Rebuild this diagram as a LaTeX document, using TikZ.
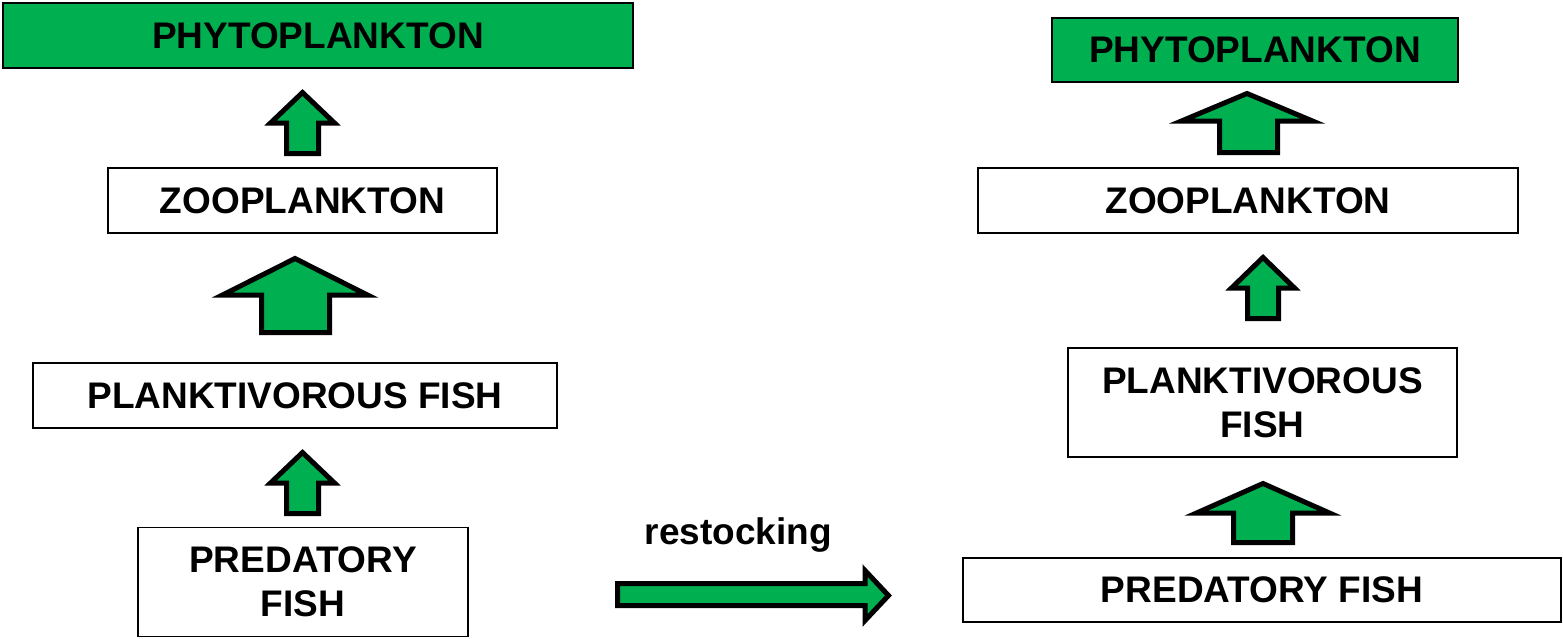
\documentclass[tikz,border=0pt]{standalone}
\usepackage{fontspec}
\setmainfont{Liberation Sans}
\definecolor{leafgreen}{HTML}{00B050}
\begin{document}
\begin{tikzpicture}[x=1pt,y=-1pt,
  box/.style={draw=black, line width=1.5pt, fill=white, inner sep=0pt, align=center,
    font=\fontsize{37}{44}\selectfont\bfseries},
  greenbox/.style={box, fill=leafgreen, line width=2pt},
  blockarrow/.style={draw=black, fill=leafgreen, line width=5pt, line join=miter, miter limit=10}]
\useasboundingbox (0,0) rectangle (1563,638);
% left column
\node[greenbox, minimum width=630pt, minimum height=65pt] (phyL) at (318,35.5) {PHYTOPLANKTON};
\node[box, minimum width=389pt, minimum height=65pt] (zooL) at (302.5,200.5) {ZOOPLANKTON};
\node[box, minimum width=524pt, minimum height=65pt] (plaL) at (295,395.5) {PLANKTIVOROUS FISH};
\node[box, minimum width=330pt, minimum height=109pt] (preL) at (303,582) {PREDATORY\\FISH};
% right column
\node[greenbox, minimum width=406pt, minimum height=64pt] (phyR) at (1255,50) {PHYTOPLANKTON};
\node[box, minimum width=540pt, minimum height=65pt] (zooR) at (1248,200.5) {ZOOPLANKTON};
\node[box, minimum width=389pt, minimum height=109pt] (plaR) at (1262.5,402.5) {PLANKTIVOROUS\\FISH};
\node[box, minimum width=598pt, minimum height=64pt] (preR) at (1262,590) {PREDATORY FISH};
% label
\node[font=\fontsize{37}{44}\selectfont\bfseries, anchor=base, inner sep=0pt] (rest) at (738.5,544) {restocking};
% left arrows
\draw[blockarrow] (286.5,153.5) -- (286.5,123) -- (270.5,123) -- (302.5,92.5) -- (334.5,123) -- (318.5,123) -- (318.5,153.5) -- cycle;
\draw[blockarrow] (261.5,332.5) -- (261.5,295) -- (222.5,295) -- (295,258.5) -- (367.5,295) -- (329.5,295) -- (329.5,332.5) -- cycle;
\draw[blockarrow] (286.5,513.5) -- (286.5,483) -- (270.5,483) -- (302.5,452.5) -- (334.5,483) -- (318.5,483) -- (318.5,513.5) -- cycle;
% right arrows
\draw[blockarrow] (1219.5,152.5) -- (1219.5,121) -- (1181.5,121) -- (1247,93.5) -- (1312.5,121) -- (1277.5,121) -- (1277.5,152.5) -- cycle;
\draw[blockarrow] (1247.5,318.5) -- (1247.5,288) -- (1231.5,288) -- (1263,257.5) -- (1294.5,288) -- (1278.5,288) -- (1278.5,318.5) -- cycle;
\draw[blockarrow] (1233.5,542.5) -- (1233.5,513) -- (1196.5,513) -- (1263,483.5) -- (1329.5,513) -- (1292.5,513) -- (1292.5,542.5) -- cycle;
% restocking arrow
\draw[blockarrow] (617.5,583.5) -- (865,583.5) -- (865,570.5) -- (888.5,595.5) -- (865,620.5) -- (865,605.5) -- (617.5,605.5) -- cycle;
\end{tikzpicture}
\end{document}
